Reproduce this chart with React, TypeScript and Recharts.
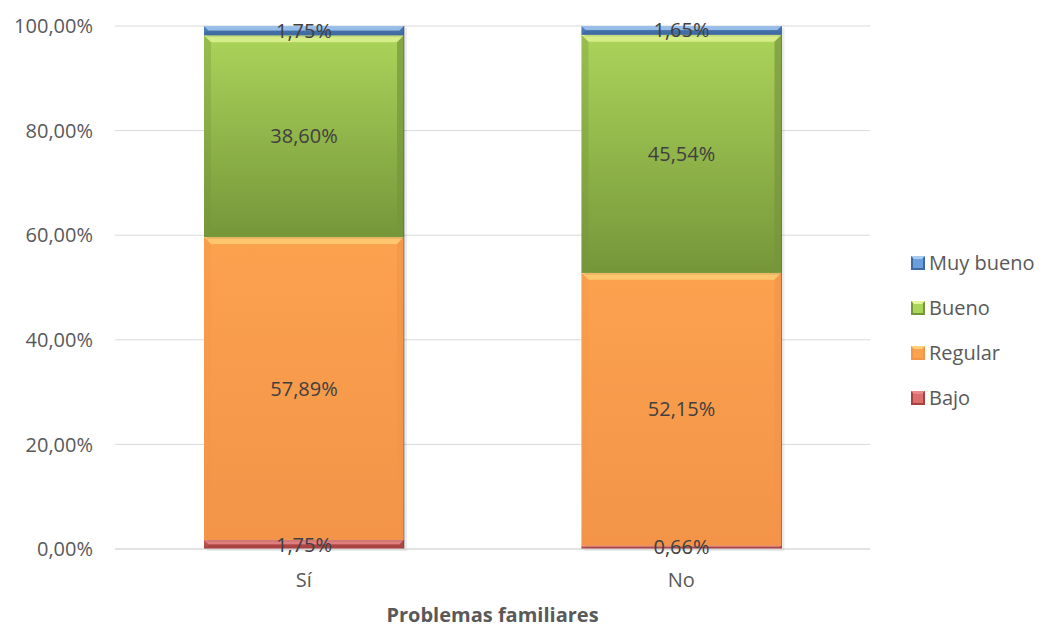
import React from 'react';
import { BarChart, Bar, XAxis, YAxis, CartesianGrid, LabelList } from 'recharts';

const categories = ['Sí', 'No'];
const bajo = [1.75, 0.66];
const regular = [57.89, 52.15];
const bueno = [38.6, 45.54];
const muyBueno = [1.75, 1.65];
const yTicks = [0, 20, 40, 60, 80, 100];

const data = categories.map((name, i) => ({
  name,
  Bajo: bajo[i],
  Regular: regular[i],
  Bueno: bueno[i],
  'Muy bueno': muyBueno[i],
}));

// series, bottom to top
const series = [
  { key: 'Bajo', id: 'gBajo', base: '#C0504D', light: '#E8898A', top: '#D9706E', bottom: '#A8413F' },
  { key: 'Regular', id: 'gRegular', base: '#F79646', light: '#FFD27A', top: '#FBA24F', bottom: '#F39448' },
  { key: 'Bueno', id: 'gBueno', base: '#9BBB59', light: '#E4F59A', top: '#ABD45A', bottom: '#76963A' },
  { key: 'Muy bueno', id: 'gMuy', base: '#4F81BD', light: '#A9CBF2', top: '#6A9EDC', bottom: '#3E6AA0' },
];

const fmt = (v: number) => v.toFixed(2).replace('.', ',') + '%';
const FONT = '"Open Sans", sans-serif';

const bevelShape = (s: typeof series[number]) => (props: any) => {
  const { x, y, width, height } = props;
  if (!height || height <= 0) return <g />;
  const b = Math.min(7, height / 2);
  return (
    <g>
      <rect x={x + 3} y={y + 2} width={width} height={height} fill="rgba(0,0,0,0.08)" />
      <rect x={x} y={y} width={width} height={height} fill={`url(#${s.id})`} />
      <polygon
        points={`${x},${y} ${x + width},${y} ${x + width - b},${y + b} ${x + b},${y + b}`}
        fill={s.light}
        opacity={0.75}
      />
      <polygon
        points={`${x},${y + height} ${x + width},${y + height} ${x + width - b},${y + height - b} ${x + b},${y + height - b}`}
        fill={s.bottom}
        opacity={0.8}
      />
      <polygon
        points={`${x},${y} ${x + b},${y + b} ${x + b},${y + height - b} ${x},${y + height}`}
        fill={s.bottom}
        opacity={0.35}
      />
      <polygon
        points={`${x + width},${y} ${x + width - b},${y + b} ${x + width - b},${y + height - b} ${x + width},${y + height}`}
        fill={s.bottom}
        opacity={0.7}
      />
      <line x1={x + width} y1={y} x2={x + width} y2={y + height} stroke="#3a3a3a" strokeOpacity={0.5} />
    </g>
  );
};

const LegendBox = () => (
  <div style={{ position: 'absolute', left: 911, top: 240, fontFamily: FONT, fontSize: 20, color: '#595959' }}>
    {[...series].reverse().map((s) => (
      <div key={s.key} style={{ display: 'flex', alignItems: 'center', height: 45 }}>
        <svg width={14} height={14} style={{ marginRight: 4 }}>
          <rect x={0} y={0} width={14} height={14} fill={s.bottom} />
          <rect x={2} y={2} width={10} height={10} fill={s.top} />
          <polygon points="0,0 14,0 11,3 3,3" fill={s.light} />
        </svg>
        <span>{s.key}</span>
      </div>
    ))}
  </div>
);

export default function App() {
  return (
    <div style={{ position: 'relative', width: 1045, height: 627, background: '#fff' }}>
      <style>{'body{margin:0}'}</style>
      <BarChart
        width={1045}
        height={627}
        data={data}
        margin={{ top: 26, right: 175, bottom: 0, left: 0 }}
        barSize={200}
      >
        <defs>
          {series.map((s) => (
            <linearGradient key={s.id} id={s.id} x1="0" y1="0" x2="0" y2="1">
              <stop offset="0%" stopColor={s.top} />
              <stop offset="100%" stopColor={s.bottom} />
            </linearGradient>
          ))}
        </defs>
        <CartesianGrid vertical={false} stroke="#D9D9D9" />
        <XAxis
          dataKey="name"
          height={78}
          tickLine={false}
          tickSize={0}
          tickMargin={24}
          axisLine={{ stroke: '#D9D9D9' }}
          tick={{ fill: '#595959', fontSize: 20, fontFamily: FONT }}
          label={{
            value: 'Problemas familiares',
            position: 'insideBottom',
            offset: 5,
            fill: '#595959',
            fontSize: 20,
            fontWeight: 'bold',
            fontFamily: FONT,
          }}
        />
        <YAxis
          width={115}
          domain={[0, 100]}
          ticks={yTicks}
          axisLine={false}
          tickLine={false}
          tickSize={0}
          tickMargin={22}
          tickFormatter={fmt}
          tick={{ fill: '#595959', fontSize: 20, fontFamily: FONT }}
        />
        {series.map((s) => (
          <Bar
            key={s.key}
            dataKey={s.key}
            stackId="a"
            fill={s.base}
            shape={bevelShape(s)}
            isAnimationActive={false}
          >
            <LabelList
              dataKey={s.key}
              position="center"
              formatter={(v: any) => fmt(Number(v))}
              fill="#404040"
              fontSize={20}
              fontFamily={FONT}
            />
          </Bar>
        ))}
      </BarChart>
      <LegendBox />
    </div>
  );
}
